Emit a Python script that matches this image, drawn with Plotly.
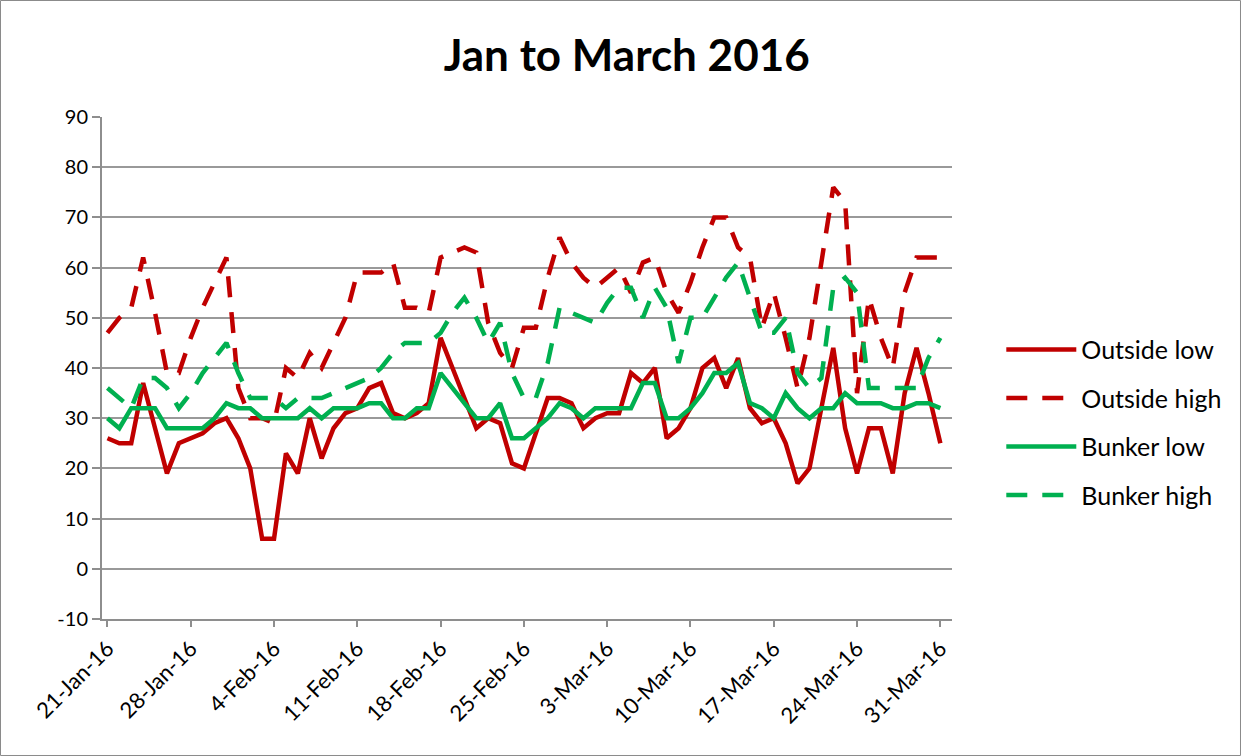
import pandas as pd
import plotly.graph_objects as go

start_date = "2016-01-21"
end_date = "2016-03-31"
dates = pd.date_range(start_date, end_date, freq="D")

outside_low = [26, 25, 25, 37, 28, 19, 25, 26, 27, 29, 30, 26, 20, 6, 6, 23, 19, 30, 22, 28, 31,
               32, 36, 37, 31, 30, 31, 33, 46, 40, 34, 28, 30, 29, 21, 20, 27, 34, 34, 33, 28, 30,
               31, 31, 39, 37, 40, 26, 28, 32, 40, 42, 36, 42, 32, 29, 30, 25, 17, 20, 32, 44, 28,
               19, 28, 28, 19, 35, 44, 35, 25]
outside_high = [47, 50, 52, 62, 51, 39, 39, 46, 52, 57, 62, 36, 30, 30, 29, 40, 38, 43, 40, 45, 50,
                59, 59, 59, 61, 52, 52, 51, 62, 63, 64, 63, 49, 43, 40, 48, 48, 58, 66, 61, 58, 56,
                58, 60, 55, 61, 62, 55, 51, 57, 64, 70, 70, 64, 62, 48, 55, 46, 36, 46, 61, 76, 73,
                35, 54, 46, 40, 55, 62, 62, 62]
bunker_low = [30, 28, 32, 32, 32, 28, 28, 28, 28, 30, 33, 32, 32, 30, 30, 30, 30, 32, 30, 32, 32,
              32, 33, 33, 30, 30, 32, 32, 39, 36, 33, 30, 30, 33, 26, 26, 28, 30, 33, 32, 30, 32,
              32, 32, 32, 37, 37, 30, 30, 32, 35, 39, 39, 41, 33, 32, 30, 35, 32, 30, 32, 32, 35,
              33, 33, 33, 32, 32, 33, 33, 32]
bunker_high = [36, 34, 32, 38, 38, 36, 32, 35, 39, 42, 45, 39, 34, 34, 34, 32, 34, 34, 34, 35, 36,
               37, 38, 40, 43, 45, 45, 45, 47, 51, 54, 50, 45, 49, 39, 34, 34, 41, 52, 51, 50, 49,
               53, 56, 56, 50, 56, 52, 41, 50, 50, 54, 58, 61, 54, 47, 47, 50, 39, 36, 38, 56, 58,
               55, 36, 36, 36, 36, 36, 42, 46]

series_names = ["Outside low", "Outside high", "Bunker low", "Bunker high"]
title_text = "Jan to March 2016"
y_ticks = list(range(-10, 91, 10))
y_tick_labels = [str(v) for v in y_ticks]
tick_dates = dates[::7]
tick_labels = [f"{d.day}-{d.strftime('%b-%y')}" for d in tick_dates]

RED = "#C00000"
GREEN = "#00B050"
FONT = "Lato"
DASH = "21px,15px"

styles = [
    (outside_low, RED, "solid"),
    (outside_high, RED, DASH),
    (bunker_low, GREEN, "solid"),
    (bunker_high, GREEN, DASH),
]

fig = go.Figure()
for name, (vals, color, dash) in zip(series_names, styles):
    fig.add_trace(go.Scatter(
        x=dates, y=vals, mode="lines", name=name, legendgroup=name,
        line=dict(color=color, width=4.5, dash=dash),
    ))

fig.update_layout(
    width=1241, height=756,
    margin=dict(l=102, r=289, t=117, b=137),
    paper_bgcolor="white", plot_bgcolor="white",
    font=dict(family=FONT, size=20, color="#000000"),
    title=dict(text=f"<b>{title_text}</b>", x=0.505, xref="container", xanchor="center",
               y=0.927, yref="container", yanchor="middle",
               font=dict(family=FONT, size=44, color="#000000")),
    showlegend=True,
    legend=dict(x=1.058, xanchor="left", y=0.392, yanchor="middle",
                font=dict(family=FONT, size=25, color="#000000"),
                tracegroupgap=13, itemwidth=70, bgcolor="rgba(0,0,0,0)"),
    shapes=[dict(type="rect", xref="paper", yref="paper",
                 x0=-0.1194, x1=1.3394, y0=-0.2719, y1=1.2321,
                 line=dict(color="#8A8A8A", width=1), fillcolor="rgba(0,0,0,0)", layer="below")],
)

fig.update_xaxes(
    type="date",
    range=["2016-01-20 13:00", "2016-03-31 23:30"],
    tickvals=tick_dates, ticktext=tick_labels, tickangle=-45,
    showgrid=False, showline=True, linecolor="#8E8E8E", linewidth=2,
    ticks="outside", ticklen=6, tickcolor="#8E8E8E", tickwidth=2,
    tickfont=dict(family=FONT, size=22, color="#000000"),
    zeroline=False,
)
fig.update_yaxes(
    range=[-10, 90], tickvals=y_ticks, ticktext=y_tick_labels,
    showgrid=True, gridcolor="#999999", gridwidth=2,
    showline=True, linecolor="#8E8E8E", linewidth=2,
    ticks="outside", ticklen=8, tickcolor="#8E8E8E", tickwidth=2,
    tickfont=dict(family=FONT, size=20, color="#000000"),
    zeroline=False,
)

fig.write_html("out.html", config={"displayModeBar": False},
               post_script="document.body.style.margin='0px';")
